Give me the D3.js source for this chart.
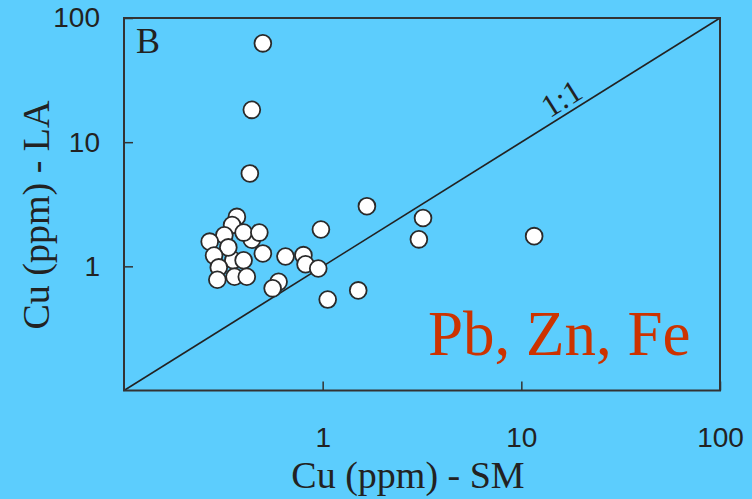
<!DOCTYPE html>
<html>
<head>
<meta charset="utf-8">
<script src="https://cdn.jsdelivr.net/npm/d3@7"></script>
<style>
  html, body { margin: 0; padding: 0; background: #5ccdfd; }
  svg { display: block; }
</style>
</head>
<body>
<svg id="chart" width="752" height="499"></svg>
<script>
// Cu (ppm) measured by solution method (SM) vs laser ablation (LA)
const cuSM = [0.50, 0.44, 0.43, 11.6, 1.67, 3.2, 3.05, 0.98, 1.51, 1.06,
              0.65, 0.60, 0.56, 0.80, 0.82, 0.95,
              0.37, 0.35, 0.44, 0.355, 0.32, 0.27, 0.40, 0.48, 0.335, 0.50,
              0.284, 0.40, 0.30, 0.295, 0.36, 0.415];
const cuLA = [62.5, 18.2, 5.6, 1.75, 3.05, 2.45, 1.65, 1.98, 0.64, 0.54,
              1.2, 0.75, 0.665, 1.23, 1.04, 0.96,
              2.5, 2.15, 1.64, 1.12, 1.78, 1.58, 1.87, 1.87, 1.42, 1.27,
              1.22, 1.12, 0.98, 0.78, 0.825, 0.825];
const xTicks = [1, 10, 100];
const yTicks = [1, 10, 100];
const axisDomain = [0.1, 100];

const svg = d3.select("#chart");
const plotL = 124, plotR = 720, plotT = 18, plotB = 390.5;

const x = d3.scaleLog().domain(axisDomain).range([plotL, plotR]);
const y = d3.scaleLog().domain(axisDomain).range([plotB, plotT]);
const fmt = d3.format("~g");

// 1:1 reference line
svg.append("line")
  .attr("x1", x(axisDomain[0])).attr("y1", y(axisDomain[0]))
  .attr("x2", x(axisDomain[1])).attr("y2", y(axisDomain[1]))
  .attr("stroke", "#222").attr("stroke-width", 1.5);

// data points
svg.append("g").selectAll("circle")
  .data(cuSM.map((v, i) => [v, cuLA[i]]))
  .join("circle")
  .attr("cx", d => x(d[0]))
  .attr("cy", d => y(d[1]))
  .attr("r", 8.4)
  .attr("fill", "#fff")
  .attr("stroke", "#2a2a2a")
  .attr("stroke-width", 1.8);

// axes with inward ticks
const xAxis = svg.append("g")
  .attr("transform", `translate(0,${plotB})`)
  .call(d3.axisBottom(x).tickValues(xTicks).tickFormat(fmt).tickSize(-9).tickPadding(37));
const yAxis = svg.append("g")
  .attr("transform", `translate(${plotL},0)`)
  .call(d3.axisLeft(y).tickValues(yTicks).tickFormat(fmt).tickSize(-9).tickPadding(24));
[xAxis, yAxis].forEach(g => {
  g.select(".domain").remove();
  g.selectAll(".tick line").attr("stroke", "#333").attr("stroke-width", 1.5);
  g.selectAll(".tick text")
    .attr("fill", "#222")
    .style("font-family", "'Liberation Sans', Arial, sans-serif")
    .style("font-size", "28px");
});

// plot frame
svg.append("rect")
  .attr("x", plotL).attr("y", plotT)
  .attr("width", plotR - plotL).attr("height", plotB - plotT)
  .attr("fill", "none").attr("stroke", "#333").attr("stroke-width", 2);

const serif = "'Liberation Serif', 'Times New Roman', serif";

// axis titles
svg.append("text")
  .attr("x", 408).attr("y", 488)
  .attr("text-anchor", "middle")
  .style("font-family", serif).style("font-size", "38px").attr("fill", "#222")
  .text("Cu (ppm) - SM");
svg.append("text")
  .attr("transform", "translate(49,215) rotate(-90)")
  .attr("text-anchor", "middle")
  .style("font-family", serif).style("font-size", "38px").attr("fill", "#222")
  .text("Cu (ppm) - LA");

// panel letter
svg.append("text")
  .attr("x", 136).attr("y", 53)
  .style("font-family", serif).style("font-size", "36px").attr("fill", "#222")
  .text("B");

// 1:1 label along the diagonal
const ang = Math.atan2(y(10) - y(100), x(100) - x(10)) * 180 / Math.PI;
svg.append("text")
  .attr("transform", `translate(${x(17)},${y(17) - 6}) rotate(${-ang})`)
  .attr("text-anchor", "middle")
  .style("font-family", serif).style("font-size", "32px").attr("fill", "#222")
  .text("1:1");

// element annotation
svg.append("text")
  .attr("x", 428).attr("y", 355)
  .style("font-family", serif).style("font-size", "63px").attr("fill", "#cc3300")
  .text("Pb, Zn, Fe");
</script>
</body>
</html>
